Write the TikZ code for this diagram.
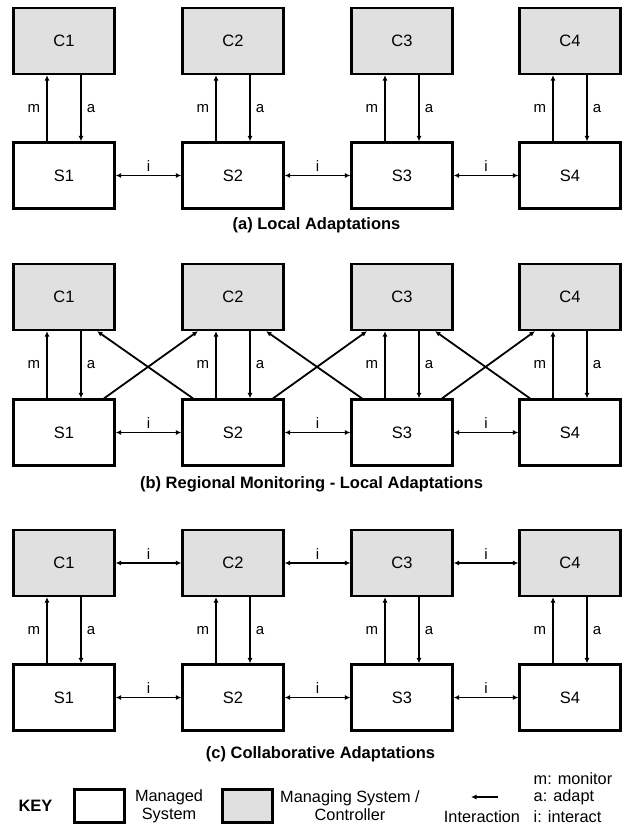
\documentclass[tikz,border=0pt]{standalone}
\usepackage{fontspec}
\setmainfont{Liberation Sans}
\usetikzlibrary{arrows.meta}
\definecolor{ctrlgray}{HTML}{E0E0E0}
\begin{document}
\begin{tikzpicture}[x=1pt,y=-1pt,
  sbox/.style={draw,line width=2.2pt,minimum width=101pt,minimum height=66pt,inner sep=0pt,fill=white,font=\fontsize{16.5}{19}\selectfont},
  cbox/.style={sbox,fill=ctrlgray},
  keybox/.style={draw,line width=2.2pt,minimum width=50pt,minimum height=33pt,inner sep=0pt},
  arr/.style={line width=1.8pt,-{Latex[length=5.5pt,width=5pt]}},
  darr/.style={line width=1.8pt,{Latex[length=5.5pt,width=5pt]}-{Latex[length=5.5pt,width=5pt]}},
  lbl/.style={font=\fontsize{15}{17}\selectfont,inner sep=1pt},
  captxt/.style={font=\fontsize{16.5}{19}\selectfont\bfseries},
  keytxt/.style={font=\fontsize{16.3}{18}\selectfont,align=center,inner sep=0pt}]
\useasboundingbox (0,0) rectangle (629,827);

% ---------- (a) ----------
\foreach \i/\x in {1/64,2/233,3/402,4/570}{
  \node[cbox] (Ca\i) at (\x,41) {C\i};
  \node[sbox] (Sa\i) at (\x,175.5) {S\i};
  \draw[arr] ([xshift=-17pt]Sa\i.north) -- ([xshift=-17pt]Ca\i.south) node[midway,lbl,left=5pt] {m};
  \draw[arr] ([xshift=17pt]Ca\i.south) -- ([xshift=17pt]Sa\i.north) node[midway,lbl,right=4pt] {a};
}
\foreach \a/\b in {1/2,2/3,3/4}{
  \draw[darr] (Sa\a.east) -- (Sa\b.west) node[midway,lbl,above=2pt] {i};
}
\node[captxt] (capa) at (316.5,225) {(a) Local Adaptations};

% ---------- (b) ----------
\foreach \i/\x in {1/64,2/233,3/402,4/570}{
  \node[cbox] (Cb\i) at (\x,297) {C\i};
  \node[sbox] (Sb\i) at (\x,432.5) {S\i};
  \draw[arr] ([xshift=-17pt]Sb\i.north) -- ([xshift=-17pt]Cb\i.south) node[midway,lbl,left=5pt] {m};
  \draw[arr] ([xshift=17pt]Cb\i.south) -- ([xshift=17pt]Sb\i.north) node[midway,lbl,right=4pt] {a};
}
\foreach \a/\b in {1/2,2/3,3/4}{
  \draw[darr] (Sb\a.east) -- (Sb\b.west) node[midway,lbl,above=2pt] {i};
  \draw[arr] ([xshift=40pt]Sb\a.north) -- ([xshift=-35pt]Cb\b.south);
  \draw[arr] ([xshift=-40pt]Sb\b.north) -- ([xshift=33pt]Cb\a.south);
}
\node[captxt] (capb) at (311.5,484) {(b) Regional Monitoring - Local Adaptations};

% ---------- (c) ----------
\foreach \i/\x in {1/64,2/233,3/402,4/570}{
  \node[cbox] (Cc\i) at (\x,563) {C\i};
  \node[sbox] (Sc\i) at (\x,697.5) {S\i};
  \draw[arr] ([xshift=-17pt]Sc\i.north) -- ([xshift=-17pt]Cc\i.south) node[midway,lbl,left=5pt] {m};
  \draw[arr] ([xshift=17pt]Cc\i.south) -- ([xshift=17pt]Sc\i.north) node[midway,lbl,right=4pt] {a};
}
\foreach \a/\b in {1/2,2/3,3/4}{
  \draw[darr] (Cc\a.east) -- (Cc\b.west) node[midway,lbl,above=2pt] {i};
  \draw[darr] (Sc\a.east) -- (Sc\b.west) node[midway,lbl,above=2pt] {i};
}
\node[captxt] (capc) at (320.5,754) {(c) Collaborative Adaptations};

% ---------- KEY ----------
\node[captxt] (key) at (35.5,806) {KEY};
\node[keybox,fill=white] (kw) at (99.5,806) {};
\node[keytxt] (kwt) at (169,806) {Managed\\System};
\node[keybox,fill=ctrlgray] (kg) at (247.5,806) {};
\node[keytxt] (kgt) at (350,806) {Managing System /\\Controller};
\coordinate (ka) at (498,797);
\coordinate (kb) at (471,797);
\draw[arr] (ka) -- (kb);
\node[keytxt] (kint) at (482,816.5) {Interaction};
\node[keytxt,anchor=west,align=left] (kl1) at (533.5,778.5) {m: monitor};
\node[keytxt,anchor=west,align=left] (kl2) at (533.5,797.5) {a: adapt};
\node[keytxt,anchor=west,align=left] (kl3) at (533.5,816.5) {i: interact};
\end{tikzpicture}
\end{document}
